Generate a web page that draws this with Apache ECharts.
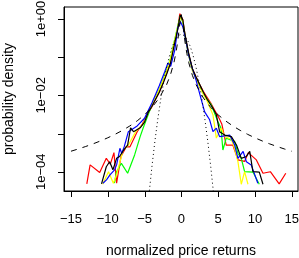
<!DOCTYPE html>
<html><head><meta charset="utf-8">
<script src="https://cdn.jsdelivr.net/npm/echarts@6/dist/echarts.min.js"></script>
<style>html,body{margin:0;padding:0;background:#fff}#c{width:299px;height:258px}</style>
</head><body><div id="c"></div>
<script>
// ---- data (x = normalized return, y = probability density) ----
const xTicks = [-15, -10, -5, 0, 5, 10, 15];
const yTickExp = [0, -1, -2, -3, -4];
const yLabelExp = [0, -2, -4];

const redX = [-12.85,-12.4,-11.1,-10.2,-9.65,-9.16,-8.8,-8.2,-7.5,-7.0,-6.0,-5.3,-4.5,-4.0,-3.5,-3.0,-2.5,-2.0,-1.5,-1.0,-0.5,-0.2,0.2,0.5,1.0,1.5,2.0,2.5,3.0,3.5,4.0,4.5,5.0,5.5,6.1,7.0,7.7,8.6,9.1,10.2,11.1,12.1,13.3,14.2];
const redY = [4.8e-5,1.51e-4,9.5e-5,2.24e-4,1.58e-4,3.16e-4,5.0e-5,2.51e-4,4.47e-4,4.47e-4,1.12e-3,1.78e-3,3.55e-3,5.01e-3,7.94e-3,0.0120,0.0209,0.0380,0.0759,0.209,0.562,1.38,0.955,0.380,0.120,0.0501,0.0302,0.0191,0.0126,8.91e-3,6.31e-3,4.17e-3,2.82e-3,1.78e-3,5.0e-4,5.0e-4,2.04e-4,1.86e-4,3.16e-4,2.04e-4,9.1e-5,1.0e-4,4.8e-5,9.1e-5];

const greenX = [-9.1,-8.8,-8.15,-7.3,-6.35,-5.6,-5.2,-4.5,-4.0,-3.5,-3.0,-2.5,-2.0,-1.5,-1.0,-0.5,-0.15,0.2,0.5,1.0,1.5,2.0,2.5,3.0,3.5,4.08,4.98,5.4,5.65,6.1,7.25,7.7,8.15,8.6,9.73,10.6];
const greenY = [5.0e-5,1.0e-4,1.66e-4,9.1e-5,2.75e-4,8.3e-4,1.38e-3,3.16e-3,5.6e-3,8.9e-3,0.0141,0.0251,0.0468,0.0891,0.240,0.631,1.20,0.832,0.355,0.112,0.0468,0.0282,0.0178,0.0112,7.94e-3,5.6e-3,2.04e-3,1.38e-3,3.7e-4,7.6e-4,6.2e-4,3.0e-4,2.24e-4,1.0e-4,9.8e-5,4.7e-5];

const yellowX = [-10.7,-9.9,-9.24,-8.8,-8.35,-7.9,-7.2,-6.2,-5.2,-4.5,-4.0,-3.5,-3.0,-2.5,-2.0,-1.5,-1.0,-0.5,-0.1,0.2,0.5,1.0,1.5,2.0,2.5,3.0,3.5,4.3,4.76,5.44,5.9,6.8,7.25,7.7,8.15,8.6,9.06];
const yellowY = [4.7e-5,1.0e-4,5.0e-5,8.3e-5,1.82e-4,3.7e-4,5.0e-4,1.12e-3,1.78e-3,3.55e-3,5.6e-3,8.9e-3,0.0141,0.0240,0.0437,0.0851,0.234,0.603,1.12,0.891,0.355,0.112,0.0447,0.0269,0.0166,0.0105,7.1e-3,3.09e-3,7.6e-4,1.38e-3,8.3e-4,7.1e-4,4.0e-4,1.82e-4,4.7e-5,1.0e-4,4.7e-5];

const blueX = [-10.65,-10.15,-9.7,-9.07,-8.8,-8.35,-8.1,-7.75,-7.2,-6.0,-5.0,-4.5,-4.0,-3.5,-3.0,-2.27,-1.82,-1.45,-0.9,-0.46,-0.1,0.22,0.6,1.0,1.5,2.0,2.72,3.17,3.85,4.3,4.76,5.2,6.57,7.25,7.7,8.4,8.84,9.5,10.4];
const blueY = [5.0e-5,6.2e-5,8.3e-5,1.12e-4,1.51e-4,4.1e-4,3.0e-4,4.6e-4,1.12e-3,1.58e-3,2.51e-3,3.98e-3,6.3e-3,0.0105,0.0178,0.0407,0.0708,0.0575,0.151,0.617,0.832,0.617,0.282,0.112,0.0501,0.0251,7.6e-3,3.7e-3,2.29e-3,1.12e-3,1.38e-3,8.3e-4,9.1e-4,5.0e-4,2.24e-4,3.4e-4,1.82e-4,1.51e-4,5.0e-5];

const blackX = [-10.85,-10.2,-9.75,-9.3,-8.8,-8.4,-7.9,-7.3,-6.9,-6.5,-5.6,-5.0,-4.5,-4.0,-3.5,-3.0,-2.5,-2.0,-1.5,-1.0,-0.5,-0.15,0.2,0.5,1.0,1.5,2.0,2.5,3.0,3.5,4.3,4.76,5.2,5.9,6.8,7.5,8.15,8.84,9.3,9.73,10.6,11.1];
const blackY = [4.8e-5,1.35e-4,1.82e-4,1.12e-4,2.24e-4,2.51e-4,3.55e-4,5.0e-4,1.41e-3,1.12e-3,1.41e-3,2.0e-3,3.55e-3,5.2e-3,7.9e-3,0.0120,0.0200,0.0355,0.0661,0.191,0.525,1.26,0.955,0.398,0.126,0.0501,0.0302,0.0191,0.0120,7.9e-3,4.6e-3,3.09e-3,1.12e-3,9.1e-4,8.3e-4,5.0e-4,2.24e-4,2.51e-4,3.4e-4,1.0e-4,9.8e-5,4.7e-5];

// reference curves
const dashedX = [-15,-14,-13,-12,-11,-10,-9,-8,-7,-6,-5,-4,-3,-2,-1.5,-1,-0.75,-0.5,-0.25,0,0.25,0.5,0.75,1,1.5,2,3,4,5,6,7,8,9,10,11,12,13,14,15];
const dashedY = [3.44e-4,3.95e-4,4.58e-4,5.37e-4,6.39e-4,7.74e-4,9.55e-4,1.21e-3,1.58e-3,2.15e-3,3.09e-3,4.82e-3,8.54e-3,0.0191,0.0335,0.0731,0.1245,0.2505,0.637,1.31,0.637,0.2505,0.1245,0.0731,0.0335,0.0191,8.54e-3,4.82e-3,3.09e-3,2.15e-3,1.58e-3,1.21e-3,9.55e-4,7.74e-4,6.39e-4,5.37e-4,4.58e-4,3.95e-4,3.44e-4];

const dottedX = [-4.4,-4.0,-3.6,-3.2,-2.8,-2.4,-2.0,-1.6,-1.2,-0.8,-0.4,0,0.4,0.8,1.2,1.6,2.0,2.4,2.8,3.2,3.6,4.0,4.4];
const dottedY = [2.5e-5,1.34e-4,6.12e-4,2.38e-3,7.92e-3,0.0224,0.0540,0.1109,0.1942,0.2897,0.3683,0.3989,0.3683,0.2897,0.1942,0.1109,0.0540,0.0224,7.92e-3,2.38e-3,6.12e-4,1.34e-4,2.5e-5];

const X_MIN = -15.95, X_MAX = 15.86, Y_MIN = -4.505, Y_MAX = 0.314; // y in log10 density
const W = 299, H = 258, G_LEFT = 64, G_RIGHT = 1, G_TOP = 7, G_BOTTOM = 67;
const FONT = '"Liberation Sans", Arial, Helvetica, sans-serif';
const pairs = (xs, ys) => xs.map((x, i) => [x, Math.log10(ys[i])]);
const minus = s => s.replace('-', '\u2212');

function lineSeries(name, xs, ys, color, width, type) {
  return {
    name, type: 'line', data: pairs(xs, ys), symbol: 'none', silent: true,
    xAxisIndex: 0, yAxisIndex: 0,
    lineStyle: { color, width, type: type || 'solid' }, clip: true
  };
}

// hidden helper axes whose zero lies on the frame edge, so the visible axes sit on the frame
const helperX = { type: 'value', min: 0, max: 1, show: false };
const helperY = { type: 'value', min: 0, max: 1, show: false };

// outward tick marks at the axis tick values (linear mapping of the same axis extents)
const TICK = 6;
const gx0 = G_LEFT, gx1 = W - G_RIGHT, gy0 = G_TOP, gy1 = H - G_BOTTOM;
const xPix = v => gx0 + (v - X_MIN) / (X_MAX - X_MIN) * (gx1 - gx0);
const yPix = v => gy1 - (v - Y_MIN) / (Y_MAX - Y_MIN) * (gy1 - gy0);
const crisp = p => Math.round(p) + 0.5;
const tickLines = [];
xTicks.forEach(v => {
  const px = crisp(xPix(v));
  tickLines.push({ type: 'line', silent: true, z: 100,
    shape: { x1: px, y1: gy1, x2: px, y2: gy1 + TICK },
    style: { stroke: '#000', lineWidth: 1 } });
});
yTickExp.forEach(v => {
  const py = crisp(yPix(v));
  tickLines.push({ type: 'line', silent: true, z: 100,
    shape: { x1: gx0 - TICK, y1: py, x2: gx0, y2: py },
    style: { stroke: '#000', lineWidth: 1 } });
});

const chart = echarts.init(document.getElementById('c'), null, { renderer: 'canvas' });
chart.setOption({
  animation: false,
  backgroundColor: '#fff',
  textStyle: { fontFamily: FONT },
  grid: { left: G_LEFT, right: G_RIGHT, top: G_TOP, bottom: G_BOTTOM, show: true, borderColor: '#000', borderWidth: 1,
    backgroundColor: 'transparent', containLabel: false, outerBoundsMode: 'none' },
  graphic: { elements: tickLines },
  xAxis: [{
    type: 'value', min: X_MIN, max: X_MAX,
    name: 'normalized price returns', nameLocation: 'middle', nameGap: 53,
    nameTextStyle: { color: '#000', fontSize: 14, fontFamily: FONT },
    axisLine: { show: true, onZero: true, onZeroAxisIndex: 1, lineStyle: { color: '#000', width: 1 } },
    splitLine: { show: false },
    axisTick: { show: false, customValues: xTicks },
    axisLabel: { color: '#000', fontSize: 13, fontFamily: FONT, margin: 22, customValues: xTicks,
      formatter: v => minus(String(v)) }
  }, helperX],
  yAxis: [{
    type: 'value', min: Y_MIN, max: Y_MAX,
    name: 'probability density', nameLocation: 'middle', nameGap: 48,
    nameTextStyle: { color: '#000', fontSize: 14, fontFamily: FONT },
    axisLine: { show: true, onZero: true, onZeroAxisIndex: 1, lineStyle: { color: '#000', width: 1 } },
    splitLine: { show: false },
    axisTick: { show: false, customValues: yTickExp },
    axisLabel: { color: '#000', fontSize: 13, fontFamily: FONT, margin: 16, rotate: 90, customValues: yLabelExp,
      formatter: v => '1e' + (v < 0 ? '\u2212' : '+') + String(Math.abs(Math.round(v))).padStart(2, '0') }
  }, helperY],
  series: [
    lineSeries('red', redX, redY, '#ff0000', 1.2),
    lineSeries('green', greenX, greenY, '#00ff00', 1.2),
    lineSeries('yellow', yellowX, yellowY, '#ffff00', 1.2),
    lineSeries('blue', blueX, blueY, '#0000ff', 1.2),
    lineSeries('black', blackX, blackY, '#000000', 1.2),
    lineSeries('lorentz', dashedX, dashedY, '#000000', 1, [6, 6]),
    lineSeries('gauss', dottedX, dottedY, '#000000', 1, [1, 3])
  ]
});
</script></body></html>
